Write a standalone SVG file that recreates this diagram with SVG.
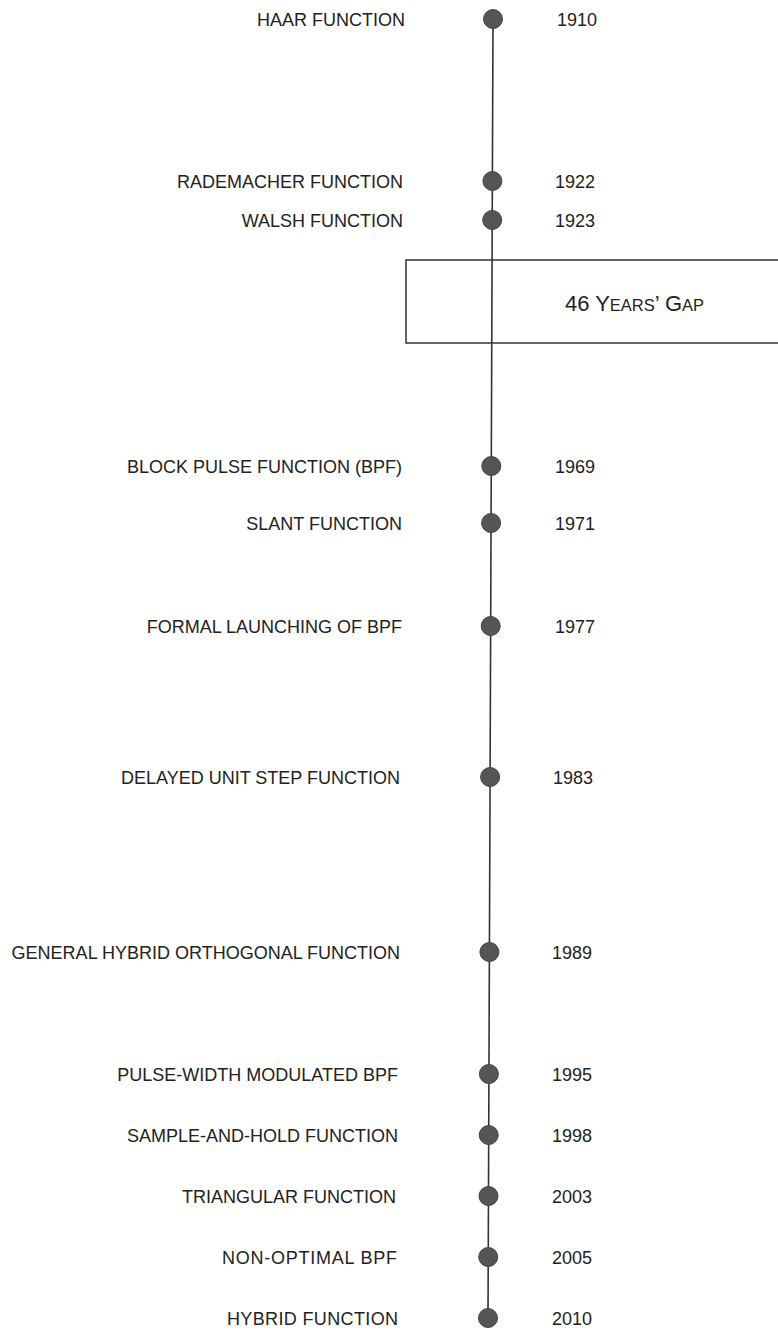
<svg xmlns="http://www.w3.org/2000/svg" width="778" height="1330" viewBox="0 0 778 1330">
<style>
.lbl{font-family:"Liberation Sans",Arial,sans-serif;font-size:18px;fill:#222;text-anchor:end}
.yr{font-family:"Liberation Sans",Arial,sans-serif;font-size:18px;fill:#222}
.dot{fill:#555;stroke:#444;stroke-width:1}
.axis{stroke:#333;stroke-width:1.6;fill:none}
.box{fill:none;stroke:#333;stroke-width:1.5}
.gap{font-family:"Liberation Sans",Arial,sans-serif;fill:#222}
</style>
<rect width="778" height="1330" fill="#fff"/>
<g id="gap-box">
<rect class="box" x="406" y="260" width="374" height="83"/>
<text class="gap" x="565" y="311" font-size="22">46 Y<tspan font-size="16.5">EARS</tspan>’ G<tspan font-size="16.5">AP</tspan></text>
</g>
<g id="connectors">
<line class="axis" x1="493" y1="19" x2="488" y2="1318"/>
</g>
<g id="n1910"><circle class="dot" cx="493" cy="19" r="9.5"/><text class="lbl" x="405" y="25.5">HAAR FUNCTION</text><text class="yr" x="557" y="25.5">1910</text></g>
<g id="n1922"><circle class="dot" cx="492.4" cy="181" r="9.5"/><text class="lbl" x="403" y="187.5">RADEMACHER FUNCTION</text><text class="yr" x="555" y="187.5">1922</text></g>
<g id="n1923"><circle class="dot" cx="492.2" cy="220" r="9.5"/><text class="lbl" x="403" y="226.5">WALSH FUNCTION</text><text class="yr" x="555" y="226.5">1923</text></g>
<g id="n1969"><circle class="dot" cx="491.3" cy="466" r="9.5"/><text class="lbl" x="402" y="472.5">BLOCK PULSE FUNCTION (BPF)</text><text class="yr" x="555" y="472.5">1969</text></g>
<g id="n1971"><circle class="dot" cx="491.1" cy="523" r="9.5"/><text class="lbl" x="402" y="529.5">SLANT FUNCTION</text><text class="yr" x="555" y="529.5">1971</text></g>
<g id="n1977"><circle class="dot" cx="490.7" cy="626" r="9.5"/><text class="lbl" x="402" y="632.5">FORMAL LAUNCHING OF BPF</text><text class="yr" x="555" y="632.5">1977</text></g>
<g id="n1983"><circle class="dot" cx="490.1" cy="777" r="9.5"/><text class="lbl" x="400" y="783.5">DELAYED UNIT STEP FUNCTION</text><text class="yr" x="553" y="783.5">1983</text></g>
<g id="n1989"><circle class="dot" cx="489.4" cy="952" r="9.5"/><text class="lbl" x="400" y="958.5">GENERAL HYBRID ORTHOGONAL FUNCTION</text><text class="yr" x="552" y="958.5">1989</text></g>
<g id="n1995"><circle class="dot" cx="488.9" cy="1074" r="9.5"/><text class="lbl" x="398" y="1080.5">PULSE-WIDTH MODULATED BPF</text><text class="yr" x="552" y="1080.5">1995</text></g>
<g id="n1998"><circle class="dot" cx="488.7" cy="1135" r="9.5"/><text class="lbl" x="398" y="1141.5">SAMPLE-AND-HOLD FUNCTION</text><text class="yr" x="552" y="1141.5">1998</text></g>
<g id="n2003"><circle class="dot" cx="488.5" cy="1196" r="9.5"/><text class="lbl" x="396" y="1202.5">TRIANGULAR FUNCTION</text><text class="yr" x="552" y="1202.5">2003</text></g>
<g id="n2005"><circle class="dot" cx="488.2" cy="1257" r="9.5"/><text class="lbl" x="397" y="1263.5" textLength="175" lengthAdjust="spacing">NON-OPTIMAL BPF</text><text class="yr" x="552" y="1263.5">2005</text></g>
<g id="n2010"><circle class="dot" cx="488" cy="1318" r="9.5"/><text class="lbl" x="398" y="1324.5" textLength="171" lengthAdjust="spacing">HYBRID FUNCTION</text><text class="yr" x="552" y="1324.5">2010</text></g>
</svg>
